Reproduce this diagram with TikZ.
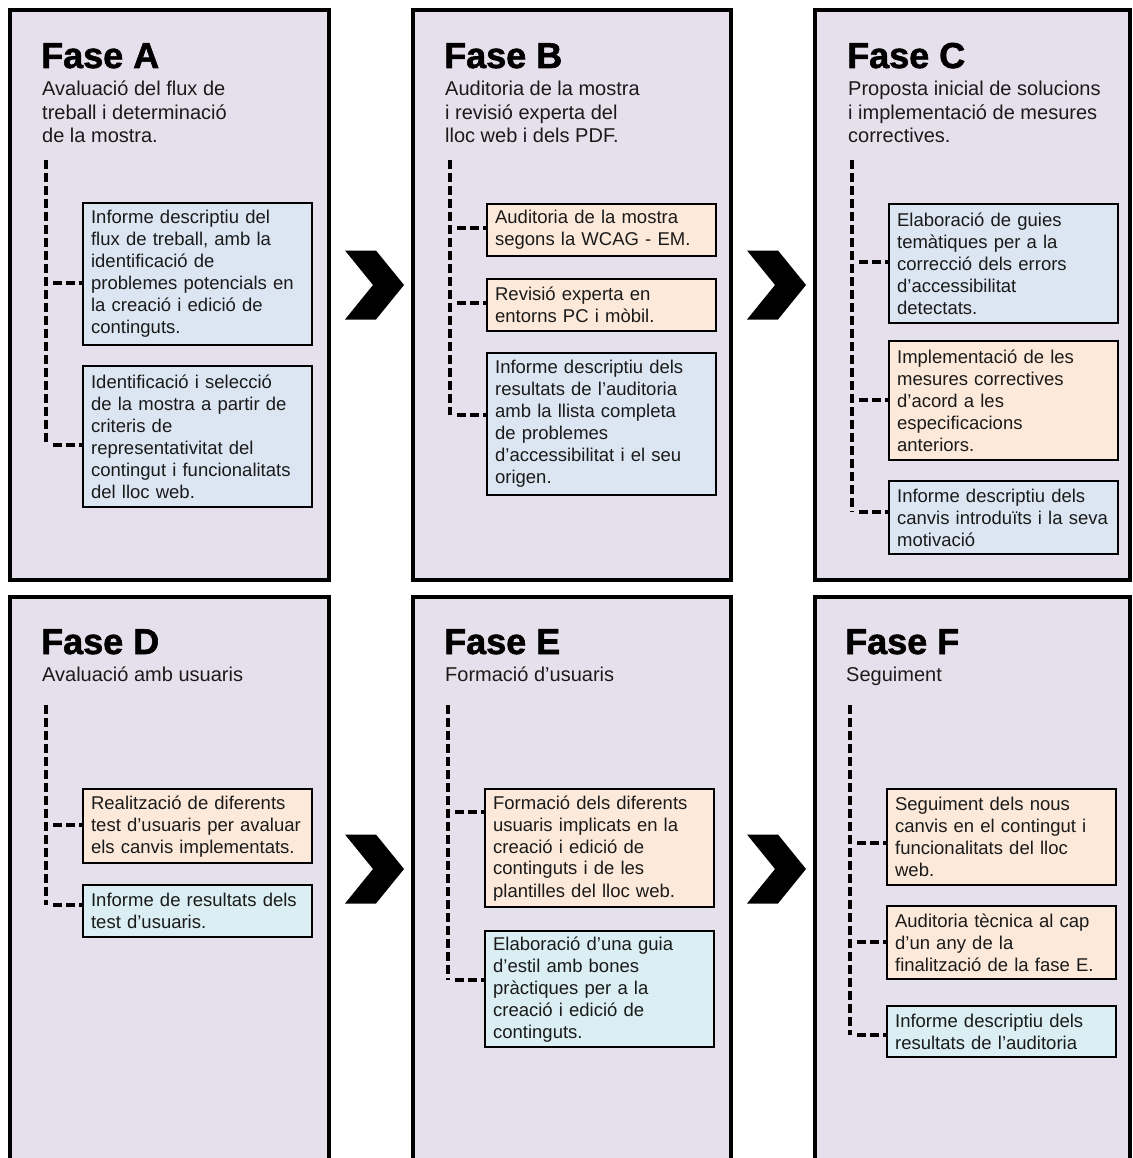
\documentclass[tikz,border=0pt]{standalone}
\usepackage{fontspec}
\setmainfont{Liberation Sans}
\newfontfamily\phasefont{Liberation Sans}[BoldFeatures={FakeBold=1.6}]
\definecolor{panelfill}{HTML}{E6E0EC}
\definecolor{bluefill}{HTML}{DCE6F2}
\definecolor{orangefill}{HTML}{FDE9D9}
\definecolor{cyanfill}{HTML}{DAEEF3}
\definecolor{textcol}{HTML}{1A1A1A}
\begin{document}
\begin{tikzpicture}[x=1pt,y=1pt,
  panel/.style={draw=black, line width=4.5pt, fill=panelfill},
  boxbase/.style={draw=black, line width=2.2pt, anchor=north west, inner xsep=8pt, inner ysep=0pt,
    text width=213pt, minimum width=229pt, align=left, text=textcol,
    font=\fontsize{18.5}{22}\selectfont},
  bluebox/.style={boxbase, fill=bluefill},
  orangebox/.style={boxbase, fill=orangefill},
  cyanbox/.style={boxbase, fill=cyanfill},
  phasetitle/.style={anchor=base west, inner sep=0pt, text=black, font=\fontsize{36}{40}\selectfont\phasefont\bfseries},
  subtitle/.style={anchor=north west, inner sep=0pt, align=left, text=textcol, font=\fontsize{20}{23.5}\selectfont},
  dashline/.style={draw=black, line width=3.2pt, dash pattern=on 9pt off 4pt},
  chev/.style={fill=black}
]
\useasboundingbox (0,0) rectangle (1132,-1158);
\fill[white] (0,0) rectangle (1132,-1158);

% panels
\draw[panel] (10,-10) rectangle (329,-580);
\draw[panel] (413,-10) rectangle (731,-580);
\draw[panel] (815,-10) rectangle (1130,-580);
\draw[panel] (10,-597) rectangle (329,-1175);
\draw[panel] (413,-597) rectangle (731,-1175);
\draw[panel] (815,-597) rectangle (1130,-1175);

% chevrons
\fill[chev] (345,-250.5) -- ++(31,0) -- ++(28,-34.5) -- ++(-28,-34.5) -- ++(-31,0) -- ++(28,34.5) -- cycle;
\fill[chev] (747,-250.5) -- ++(31,0) -- ++(28,-34.5) -- ++(-28,-34.5) -- ++(-31,0) -- ++(28,34.5) -- cycle;
\fill[chev] (345,-834.5) -- ++(31,0) -- ++(28,-34.5) -- ++(-28,-34.5) -- ++(-31,0) -- ++(28,34.5) -- cycle;
\fill[chev] (747,-834.5) -- ++(31,0) -- ++(28,-34.5) -- ++(-28,-34.5) -- ++(-31,0) -- ++(28,34.5) -- cycle;

% titles
\node[phasetitle] (tiA) at (41,-68) {Fase A};
\node[phasetitle] (tiB) at (444,-68) {Fase B};
\node[phasetitle] (tiC) at (847,-68) {Fase C};
\node[phasetitle] (tiD) at (41,-654) {Fase D};
\node[phasetitle] (tiE) at (444,-654) {Fase E};
\node[phasetitle] (tiF) at (845,-654) {Fase F};

% subtitles
\node[subtitle] (sA) at (42,-81) {Avaluació del flux de\\treball i determinació\\de la mostra.};
\node[subtitle] (sB) at (445,-81) {Auditoria de la mostra\\i revisió experta del\\lloc web i dels PDF.};
\node[subtitle] (sC) at (848,-81) {Proposta inicial de solucions\\i implementació de mesures\\correctives.};
\node[subtitle] (sD) at (42,-667) {Avaluació amb usuaris};
\node[subtitle] (sE) at (445,-667) {Formació d’usuaris};
\node[subtitle] (sF) at (846,-667) {Seguiment};

% boxes A
\node[bluebox, minimum height=142pt] (a1) at (82,-202) {Informe descriptiu del\\flux de treball, amb la\\identificació de\\problemes potencials en\\la creació i edició de\\continguts.};
\node[bluebox, minimum height=141pt] (a2) at (82,-365) {Identificació i selecció\\de la mostra a partir de\\criteris de\\representativitat del\\contingut i funcionalitats\\del lloc web.};
% boxes B
\node[orangebox, minimum height=52pt] (b1) at (486,-203) {Auditoria de la mostra\\segons la WCAG - EM.};
\node[orangebox, minimum height=52pt] (b2) at (486,-278) {Revisió experta en\\entorns PC i mòbil.};
\node[bluebox, minimum height=142pt] (b3) at (486,-352) {Informe descriptiu dels\\resultats de l’auditoria\\amb la llista completa\\de problemes\\d’accessibilitat i el seu\\origen.};
% boxes C
\node[bluebox, minimum height=119pt] (c1) at (888,-203) {Elaboració de guies\\temàtiques per a la\\correcció dels errors\\d’accessibilitat\\detectats.};
\node[orangebox, minimum height=119pt] (c2) at (888,-340) {Implementació de les\\mesures correctives\\d’acord a les\\especificacions\\anteriors.};
\node[bluebox, minimum height=73pt] (c3) at (888,-480) {Informe descriptiu dels\\canvis introduïts i la seva\\motivació};
% boxes D
\node[orangebox, minimum height=74pt] (d1) at (82,-788) {Realització de diferents\\test d’usuaris per avaluar\\els canvis implementats.};
\node[cyanbox, minimum height=52pt] (d2) at (82,-884) {Informe de resultats dels\\test d’usuaris.};
% boxes E
\node[orangebox, minimum height=118pt] (e1) at (484,-788) {Formació dels diferents\\usuaris implicats en la\\creació i edició de\\continguts i de les\\plantilles del lloc web.};
\node[cyanbox, minimum height=116pt] (e2) at (484,-930) {Elaboració d’una guia\\d’estil amb bones\\pràctiques per a la\\creació i edició de\\continguts.};
% boxes F
\node[orangebox, minimum height=96pt] (f1) at (886,-788) {Seguiment dels nous\\canvis en el contingut i\\funcionalitats del lloc\\web.};
\node[orangebox, minimum height=73pt] (f2) at (886,-905) {Auditoria tècnica al cap\\d’un any de la\\finalització de la fase E.};
\node[cyanbox, minimum height=51pt] (f3) at (886,-1005) {Informe descriptiu dels\\resultats de l’auditoria};

% connector coordinates
\coordinate (tA) at (46,-160);  \coordinate (jA1) at (46,-283);  \coordinate (jA2) at (46,-445);
\coordinate (tB) at (450,-160); \coordinate (jB1) at (450,-228); \coordinate (jB2) at (450,-303); \coordinate (jB3) at (450,-415);
\coordinate (tC) at (852,-160); \coordinate (jC1) at (852,-262); \coordinate (jC2) at (852,-400); \coordinate (jC3) at (852,-512);
\coordinate (tD) at (46,-705);  \coordinate (jD1) at (46,-825);  \coordinate (jD2) at (46,-905);
\coordinate (tE) at (448,-705); \coordinate (jE1) at (448,-812); \coordinate (jE2) at (448,-980);
\coordinate (tF) at (850,-705); \coordinate (jF1) at (850,-843); \coordinate (jF2) at (850,-942); \coordinate (jF3) at (850,-1035);

% vertical dashed spines
\draw[dashline] (tA) -- (jA2);
\draw[dashline] (tB) -- (jB3);
\draw[dashline] (tC) -- (jC3);
\draw[dashline] (tD) -- (jD2);
\draw[dashline] (tE) -- (jE2);
\draw[dashline] (tF) -- (jF3);

% branches
\draw[dashline] ([xshift=7pt]jA1) -- (jA1 -| a1.west);
\draw[dashline] ([xshift=7pt]jA2) -- (jA2 -| a2.west);
\draw[dashline] ([xshift=7pt]jB1) -- (jB1 -| b1.west);
\draw[dashline] ([xshift=7pt]jB2) -- (jB2 -| b2.west);
\draw[dashline] ([xshift=7pt]jB3) -- (jB3 -| b3.west);
\draw[dashline] ([xshift=7pt]jC1) -- (jC1 -| c1.west);
\draw[dashline] ([xshift=7pt]jC2) -- (jC2 -| c2.west);
\draw[dashline] ([xshift=7pt]jC3) -- (jC3 -| c3.west);
\draw[dashline] ([xshift=7pt]jD1) -- (jD1 -| d1.west);
\draw[dashline] ([xshift=7pt]jD2) -- (jD2 -| d2.west);
\draw[dashline] ([xshift=7pt]jE1) -- (jE1 -| e1.west);
\draw[dashline] ([xshift=7pt]jE2) -- (jE2 -| e2.west);
\draw[dashline] ([xshift=7pt]jF1) -- (jF1 -| f1.west);
\draw[dashline] ([xshift=7pt]jF2) -- (jF2 -| f2.west);
\draw[dashline] ([xshift=7pt]jF3) -- (jF3 -| f3.west);
\end{tikzpicture}
\end{document}
